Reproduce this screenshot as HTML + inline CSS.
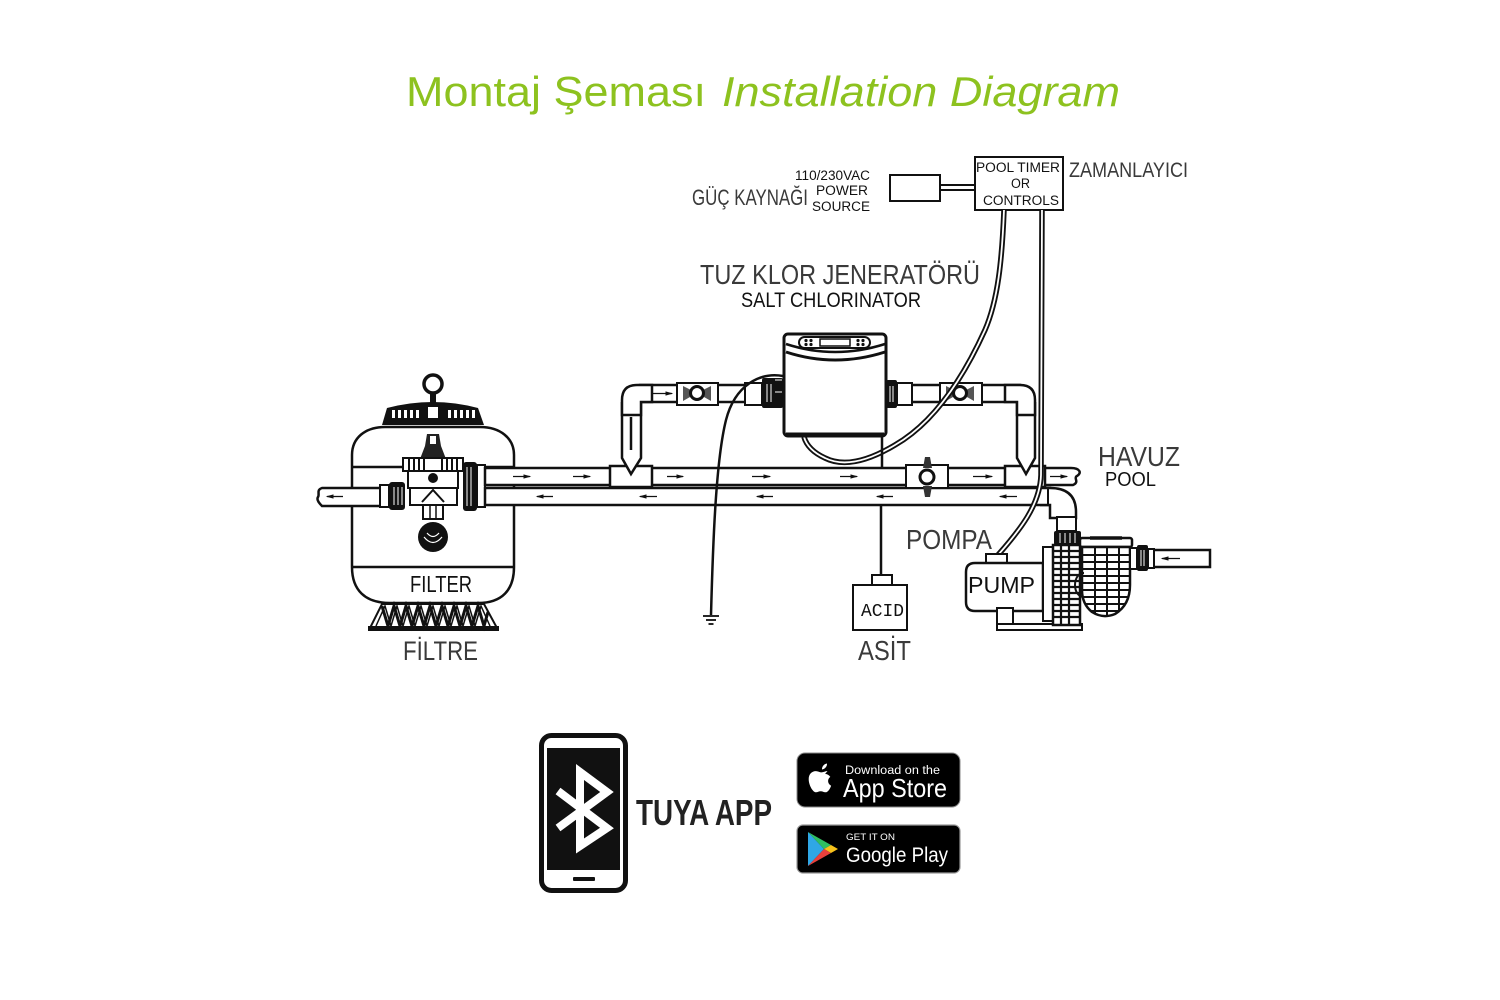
<!DOCTYPE html>
<html><head><meta charset="utf-8">
<style>
html,body{margin:0;padding:0;background:#fff;}
svg{display:block;}
</style></head><body>
<svg width="1500" height="1000" viewBox="0 0 1500 1000" xmlns="http://www.w3.org/2000/svg">
<defs>
<marker id="ah" markerWidth="6" markerHeight="4" refX="5" refY="2" orient="auto"><path d="M0 0.4 L6 2 L0 3.6z" fill="#111"/></marker>
<clipPath id="potclip"><path d="M1082 547 H1130 V585 Q1130 605 1115 614 Q1103 619 1092 612 Q1082 604 1082 590 Z"/></clipPath>
</defs>
<rect width="1500" height="1000" fill="#fff"/>

<!-- Title -->
<text x="406" y="106" font-family="Liberation Sans, sans-serif" font-size="42" fill="#8dc21f" textLength="300" lengthAdjust="spacingAndGlyphs">Montaj Şeması</text>
<text x="722" y="106" font-family="Liberation Sans, sans-serif" font-size="42" font-style="italic" fill="#8dc21f" textLength="398" lengthAdjust="spacingAndGlyphs">Installation Diagram</text>

<!-- Power source & timer -->
<rect x="890" y="175" width="50" height="26" fill="#fff" stroke="#111" stroke-width="2"/>
<line x1="940" y1="185" x2="975" y2="185" stroke="#111" stroke-width="2"/>
<line x1="940" y1="190" x2="975" y2="190" stroke="#111" stroke-width="2"/>
<rect x="975" y="157" width="88" height="53" fill="#fff" stroke="#111" stroke-width="2"/>
<g font-family="Liberation Sans, sans-serif" fill="#111" font-size="13.5">
<text x="976" y="172" textLength="84" lengthAdjust="spacingAndGlyphs">POOL TIMER</text>
<text x="1011" y="188" textLength="19" lengthAdjust="spacingAndGlyphs">OR</text>
<text x="983" y="205" textLength="76" lengthAdjust="spacingAndGlyphs">CONTROLS</text>
<text x="795" y="180" textLength="75" lengthAdjust="spacingAndGlyphs">110/230VAC</text>
<text x="816" y="195" textLength="52" lengthAdjust="spacingAndGlyphs">POWER</text>
<text x="812" y="211" textLength="58" lengthAdjust="spacingAndGlyphs">SOURCE</text>
</g>

<!-- Filter tank -->
<path d="M352 467 V455 C352 438 365 427 385 427 H480 C500 427 514 438 514 455 V567 C514 590 502 603 478 603 H390 C365 603 352 590 352 567 Z" fill="#fff" stroke="#111" stroke-width="2.5"/>
<line x1="352" y1="467" x2="514" y2="467" stroke="#111" stroke-width="2.5"/>
<line x1="352" y1="567" x2="514" y2="567" stroke="#111" stroke-width="2.5"/>
<!-- legs -->
<path d="M382 604 L484 604 L497 628 L370 628 Z" fill="#fff" stroke="#111" stroke-width="2"/>
<polyline points="382,606 388,626 394,606 400,626 406,606 412,626 418,606 424,626 430,606 436,626 442,606 448,626 454,606 460,626 466,606 472,626 478,606 484,626 488,612" fill="none" stroke="#111" stroke-width="3"/>
<polyline points="376,626 385,606 391,626 397,606 403,626 409,606 415,626 421,606 427,626 433,606 439,626 445,606 451,626 457,606 463,626 469,606 475,626 481,606 490,626" fill="none" stroke="#111" stroke-width="1.5"/>
<rect x="368" y="626" width="131" height="5" fill="#111"/>
<!-- lid -->
<circle cx="433" cy="384" r="9" fill="#fff" stroke="#111" stroke-width="3.5"/>
<rect x="430" y="392" width="6" height="11" fill="#111"/>
<path d="M382 425 L387 408 Q433 396 478 408 L484 425 Z" fill="#111"/>
<g fill="#fff">
<rect x="392" y="410" width="3" height="8"/><rect x="398" y="410" width="3" height="8"/><rect x="404" y="410" width="3" height="8"/><rect x="410" y="410" width="3" height="8"/><rect x="416" y="410" width="3" height="8"/>
<rect x="428" y="407" width="10" height="11"/>
<rect x="448" y="410" width="3" height="8"/><rect x="454" y="410" width="3" height="8"/><rect x="460" y="410" width="3" height="8"/><rect x="466" y="410" width="3" height="8"/><rect x="472" y="410" width="3" height="8"/>
</g>
<!-- valve -->
<path d="M427 434 H439 L441 446 L446 459 H420 L425 446 Z" fill="#222"/>
<rect x="430" y="436" width="6" height="8" fill="#fff"/>
<rect x="403" y="458" width="60" height="13" fill="#fff" stroke="#111" stroke-width="2"/>
<g stroke="#111" stroke-width="2">
<line x1="409" y1="459" x2="409" y2="470"/><line x1="414" y1="459" x2="414" y2="470"/><line x1="419" y1="459" x2="419" y2="470"/><line x1="424" y1="459" x2="424" y2="470"/><line x1="442" y1="459" x2="442" y2="470"/><line x1="447" y1="459" x2="447" y2="470"/><line x1="452" y1="459" x2="452" y2="470"/><line x1="457" y1="459" x2="457" y2="470"/>
</g>
<rect x="408" y="471" width="50" height="17" fill="#fff" stroke="#111" stroke-width="2"/>
<circle cx="433" cy="478" r="5" fill="#111"/>
<rect x="410" y="488" width="47" height="17" fill="#fff" stroke="#111" stroke-width="2"/>
<path d="M422 502 L433 490 L444 502" fill="#fff" stroke="#111" stroke-width="2"/>
<rect x="423" y="505" width="20" height="14" fill="#fff" stroke="#111" stroke-width="2"/>
<line x1="430" y1="505" x2="430" y2="520" stroke="#111" stroke-width="1.5"/>
<line x1="436" y1="505" x2="436" y2="520" stroke="#111" stroke-width="1.5"/>
<circle cx="433" cy="537" r="15" fill="#111"/>
<path d="M424 537 Q433 548 442 537" fill="none" stroke="#fff" stroke-width="1.2"/>
<path d="M427 533 Q433 540 439 533" fill="none" stroke="#fff" stroke-width="1.2"/>
<!-- left pipe -->
<path d="M382 488 H322 C316 490 320 494 318 497 C316 500 320 504 322 506 H382" fill="#fff" stroke="#111" stroke-width="2.5"/>
<!-- unions on filter -->
<rect x="380" y="485" width="9" height="22" fill="#fff" stroke="#111" stroke-width="2"/>
<rect x="389" y="482" width="16" height="28" rx="3" fill="#111"/>
<g stroke="#fff" stroke-width="1"><line x1="394" y1="487" x2="394" y2="505"/><line x1="398" y1="487" x2="398" y2="505"/><line x1="402" y1="487" x2="402" y2="505"/></g>
<rect x="463" y="462" width="14" height="49" rx="3" fill="#111"/>
<g stroke="#fff" stroke-width="1"><line x1="467" y1="467" x2="467" y2="506"/><line x1="471" y1="467" x2="471" y2="506"/></g>
<rect x="477" y="465" width="8" height="42" fill="#fff" stroke="#111" stroke-width="2"/>

<!-- Main pipes -->
<path d="M485 468 H1071 C1080 468 1082 473 1077 476 C1073 478 1080 482 1073 485 H485 Z" fill="#fff" stroke="#111" stroke-width="2.5"/>
<rect x="485" y="488" width="565" height="17" fill="#fff" stroke="#111" stroke-width="2.5"/>
<path d="M1040 488 H1050 Q1076 488 1076 512 V518 H1050 V505 H1040" fill="#fff" stroke="#111" stroke-width="2.5"/>
<line x1="1048" y1="488" x2="1048" y2="505" stroke="#111" stroke-width="2"/>
<rect x="1057" y="517" width="19" height="14" fill="#fff" stroke="#111" stroke-width="2"/>
<rect x="1054" y="531" width="27" height="14" rx="2" fill="#111"/>
<g stroke="#fff" stroke-width="1"><line x1="1060" y1="533" x2="1060" y2="543"/><line x1="1065" y1="533" x2="1065" y2="543"/><line x1="1070" y1="533" x2="1070" y2="543"/><line x1="1075" y1="533" x2="1075" y2="543"/></g>

<!-- bypass horizontal pipe -->
<rect x="640" y="385" width="380" height="17" fill="#fff" stroke="#111" stroke-width="2.5"/>
<!-- tees -->
<rect x="610" y="466" width="42" height="21" fill="#fff" stroke="#111" stroke-width="2.5"/>
<rect x="1005" y="466" width="40" height="21" fill="#fff" stroke="#111" stroke-width="2.5"/>
<!-- verticals -->
<path d="M622 402 V458 L631 474 L641 458 V402" fill="#fff" stroke="#111" stroke-width="2.5"/>
<path d="M1017 402 V458 L1026 474 L1035 458 V402" fill="#fff" stroke="#111" stroke-width="2.5"/>
<line x1="631" y1="417" x2="631" y2="450" stroke="#111" stroke-width="2.5"/>
<!-- elbows -->
<path d="M622 415 V400 Q622 385 637 385 H652 V402 H641 V415 Z" fill="#fff" stroke="#111" stroke-width="2.5"/>
<line x1="622" y1="415" x2="641" y2="415" stroke="#111" stroke-width="2"/>
<path d="M1035 415 V400 Q1035 385 1020 385 H1005 V402 H1017 V415 Z" fill="#fff" stroke="#111" stroke-width="2.5"/>
<line x1="1017" y1="415" x2="1035" y2="415" stroke="#111" stroke-width="2"/>

<!-- bypass valves -->
<rect x="677" y="383" width="41" height="22" fill="#fff" stroke="#111" stroke-width="2"/>
<path d="M683 386 L697 393 L683 401 Z M711 386 L697 393 L711 401 Z" fill="#555"/>
<circle cx="697" cy="393" r="6.5" fill="#fff" stroke="#111" stroke-width="3"/>
<rect x="940" y="383" width="42" height="22" fill="#fff" stroke="#111" stroke-width="2"/>
<path d="M946 386 L960 393 L946 401 Z M974 386 L960 393 L974 401 Z" fill="#555"/>
<circle cx="960" cy="393" r="6.5" fill="#fff" stroke="#111" stroke-width="3"/>
<!-- couplings & unions -->
<rect x="745" y="383" width="17" height="22" fill="#fff" stroke="#111" stroke-width="2"/>
<rect x="762" y="378" width="21" height="30" rx="2" fill="#111"/>
<g stroke="#fff" stroke-width="1"><line x1="767" y1="384" x2="767" y2="402"/><line x1="771" y1="384" x2="771" y2="402"/><line x1="775" y1="380" x2="782" y2="380"/><line x1="775" y1="392" x2="782" y2="392"/></g>
<rect x="897" y="383" width="15" height="22" fill="#fff" stroke="#111" stroke-width="2"/>
<rect x="886" y="380" width="11" height="28" rx="2" fill="#111"/>
<g stroke="#fff" stroke-width="1"><line x1="890" y1="386" x2="890" y2="402"/><line x1="893" y1="386" x2="893" y2="402"/></g>

<!-- main pipe valve -->
<rect x="906" y="465" width="42" height="23" fill="#fff" stroke="#111" stroke-width="2"/>
<path d="M925 457 H930 L932 468 H923 Z M923 486 H932 L930 497 H925 Z" fill="#333"/>
<circle cx="927" cy="477" r="7" fill="#fff" stroke="#111" stroke-width="3"/>

<!-- flow arrows -->
<g stroke="#111" stroke-width="1.3" marker-end="url(#ah)">
<line x1="513" y1="476.5" x2="530" y2="476.5"/>
<line x1="573" y1="476.5" x2="590" y2="476.5"/>
<line x1="667" y1="476.5" x2="683" y2="476.5"/>
<line x1="752" y1="476.5" x2="770" y2="476.5"/>
<line x1="840" y1="476.5" x2="857" y2="476.5"/>
<line x1="973" y1="476.5" x2="992" y2="476.5"/>
<line x1="1050" y1="476.5" x2="1067" y2="476.5"/>
<line x1="653" y1="393.5" x2="672" y2="393.5"/>
<line x1="553" y1="496.5" x2="537" y2="496.5"/>
<line x1="657" y1="496.5" x2="640" y2="496.5"/>
<line x1="773" y1="496.5" x2="757" y2="496.5"/>
<line x1="893" y1="496.5" x2="877" y2="496.5"/>
<line x1="1017" y1="496.5" x2="1000" y2="496.5"/>
<line x1="343" y1="496.5" x2="327" y2="496.5"/>
</g>

<!-- cables -->
<g fill="none" stroke="#111" stroke-width="5.5">
<path d="M1004 210 C1002 260 998 300 985 330 C960 385 930 425 895 445 C870 460 845 468 825 458 C812 452 806 444 804 437"/>
<path d="M1042 210 L1041 475 C1040 505 1020 530 998 555"/>
</g>
<g fill="none" stroke="#fff" stroke-width="1.8">
<path d="M1004 210 C1002 260 998 300 985 330 C960 385 930 425 895 445 C870 460 845 468 825 458 C812 452 806 444 804 437"/>
<path d="M1042 210 L1041 475 C1040 505 1020 530 998 555"/>
</g>
<path d="M783 376 C760 372 735 385 726 420 C716 460 713 540 711 615" fill="none" stroke="#111" stroke-width="2.5"/>
<g stroke="#111" stroke-width="1.8"><line x1="703" y1="616" x2="719" y2="616"/><line x1="706" y1="620" x2="716" y2="620"/><line x1="708.5" y1="624" x2="713.5" y2="624"/></g>

<!-- acid line -->
<line x1="882" y1="437" x2="882" y2="468" stroke="#111" stroke-width="2.5"/>
<line x1="881" y1="505" x2="881" y2="575" stroke="#111" stroke-width="2.5"/>

<!-- chlorinator -->
<rect x="784" y="334" width="102" height="102" rx="4" fill="#fff" stroke="#111" stroke-width="3"/>
<line x1="786" y1="434" x2="884" y2="434" stroke="#111" stroke-width="3"/>
<path d="M786 344 Q835 360 885 344" fill="none" stroke="#111" stroke-width="2.5"/>
<path d="M786 352 Q835 368 885 352" fill="none" stroke="#111" stroke-width="3"/>
<rect x="799" y="337" width="71" height="11" rx="5.5" fill="#fff" stroke="#111" stroke-width="2"/>
<rect x="820" y="339" width="30" height="7" fill="#fff" stroke="#111" stroke-width="1.5"/>
<g fill="#111"><circle cx="806" cy="340.5" r="1.6"/><circle cx="811" cy="340.5" r="1.6"/><circle cx="806" cy="344.5" r="1.6"/><circle cx="811" cy="344.5" r="1.6"/><circle cx="858" cy="340.5" r="1.6"/><circle cx="863" cy="340.5" r="1.6"/><circle cx="858" cy="344.5" r="1.6"/><circle cx="863" cy="344.5" r="1.6"/></g>

<!-- acid -->
<rect x="872" y="575" width="20" height="10" fill="#fff" stroke="#111" stroke-width="2"/>
<rect x="853" y="585" width="54" height="45" fill="#fff" stroke="#111" stroke-width="2"/>
<text x="861" y="616" font-family="Liberation Mono, monospace" font-size="18" fill="#111" textLength="43" lengthAdjust="spacingAndGlyphs">ACID</text>

<!-- pump -->
<rect x="986" y="554" width="21" height="10" fill="#fff" stroke="#111" stroke-width="2"/>
<path d="M975 563 H1043 V611 H975 Q966 611 966 602 V572 Q966 563 975 563 Z" fill="#fff" stroke="#111" stroke-width="2.5"/>
<rect x="997" y="608" width="16" height="18" fill="#fff" stroke="#111" stroke-width="2"/>
<rect x="997" y="624" width="85" height="6" fill="#fff" stroke="#111" stroke-width="2"/>
<rect x="1043" y="547" width="10" height="74" fill="#fff" stroke="#111" stroke-width="2"/>
<rect x="1053" y="545" width="27" height="80" fill="#fff" stroke="#111" stroke-width="2.5"/>
<g stroke="#111" stroke-width="2.2">
<line x1="1053" y1="551" x2="1080" y2="551"/><line x1="1053" y1="557" x2="1080" y2="557"/><line x1="1053" y1="563" x2="1080" y2="563"/><line x1="1053" y1="569" x2="1080" y2="569"/><line x1="1053" y1="575" x2="1080" y2="575"/><line x1="1053" y1="581" x2="1080" y2="581"/><line x1="1053" y1="587" x2="1080" y2="587"/><line x1="1053" y1="593" x2="1080" y2="593"/><line x1="1053" y1="599" x2="1080" y2="599"/><line x1="1053" y1="605" x2="1080" y2="605"/><line x1="1053" y1="611" x2="1080" y2="611"/><line x1="1053" y1="617" x2="1080" y2="617"/>
<line x1="1061" y1="545" x2="1061" y2="625"/><line x1="1069" y1="545" x2="1069" y2="625"/>
</g>
<rect x="1080" y="538" width="52" height="9" rx="2" fill="#fff" stroke="#111" stroke-width="2.5"/>
<line x1="1090" y1="538" x2="1122" y2="538" stroke="#111" stroke-width="3.5"/>
<path d="M1082 547 H1130 V585 Q1130 605 1115 614 Q1103 619 1092 612 Q1082 604 1082 590 Z" fill="#fff" stroke="#111" stroke-width="2.5"/>
<g clip-path="url(#potclip)" stroke="#111" stroke-width="2">
<line x1="1095" y1="547" x2="1095" y2="620"/><line x1="1107" y1="547" x2="1107" y2="620"/><line x1="1119" y1="547" x2="1119" y2="620"/>
<line x1="1082" y1="555" x2="1130" y2="555"/><line x1="1082" y1="562" x2="1130" y2="562"/><line x1="1082" y1="569" x2="1130" y2="569"/><line x1="1082" y1="576" x2="1130" y2="576"/><line x1="1082" y1="583" x2="1130" y2="583"/><line x1="1082" y1="590" x2="1130" y2="590"/><line x1="1082" y1="597" x2="1130" y2="597"/><line x1="1082" y1="604" x2="1130" y2="604"/><line x1="1082" y1="611" x2="1130" y2="611"/>
</g>
<path d="M1084 573 C1072 573 1072 597 1084 597" fill="none" stroke="#111" stroke-width="2"/>
<rect x="1153" y="550" width="57" height="17" fill="#fff" stroke="#111" stroke-width="2.5"/>
<rect x="1130" y="548" width="7" height="21" fill="#fff" stroke="#111" stroke-width="2"/>
<rect x="1137" y="545" width="11" height="26" rx="2" fill="#111"/>
<g stroke="#fff" stroke-width="1"><line x1="1141" y1="550" x2="1141" y2="566"/><line x1="1144" y1="550" x2="1144" y2="566"/></g>
<rect x="1148" y="549" width="6" height="19" fill="#fff" stroke="#111" stroke-width="2"/>
<line x1="1180" y1="558.5" x2="1162" y2="558.5" stroke="#111" stroke-width="1.3" marker-end="url(#ah)"/>

<!-- labels -->
<g font-family="Liberation Sans Narrow, Liberation Sans, sans-serif">
<text x="700" y="284" font-size="28" fill="#3a3a3a" textLength="280" lengthAdjust="spacingAndGlyphs">TUZ KLOR JENERATÖRÜ</text>
<text x="741" y="307" font-size="21" fill="#111" textLength="180" lengthAdjust="spacingAndGlyphs">SALT CHLORINATOR</text>
<text x="692" y="205" font-size="22" fill="#3a3a3a" textLength="116" lengthAdjust="spacingAndGlyphs">GÜÇ KAYNAĞI</text>
<text x="1069" y="177" font-size="21" fill="#3a3a3a" textLength="119" lengthAdjust="spacingAndGlyphs">ZAMANLAYICI</text>
<text x="1098" y="466" font-size="28" fill="#3a3a3a" textLength="82" lengthAdjust="spacingAndGlyphs">HAVUZ</text>
<text x="1105" y="486" font-size="20" fill="#111" textLength="51" lengthAdjust="spacingAndGlyphs">POOL</text>
<text x="906" y="549" font-size="28" fill="#3a3a3a" textLength="86" lengthAdjust="spacingAndGlyphs">POMPA</text>
<text x="858" y="660" font-size="28" fill="#3a3a3a" textLength="53" lengthAdjust="spacingAndGlyphs">ASİT</text>
<text x="403" y="660" font-size="27" fill="#3a3a3a" textLength="75" lengthAdjust="spacingAndGlyphs">FİLTRE</text>
<text x="410" y="592" font-size="23" fill="#111" textLength="62" lengthAdjust="spacingAndGlyphs">FILTER</text>
<text x="968" y="593" font-size="23" fill="#111" textLength="67" lengthAdjust="spacingAndGlyphs">PUMP</text>
</g>

<!-- phone -->
<rect x="541.5" y="735.5" width="84" height="155" rx="10" fill="#fff" stroke="#111" stroke-width="5"/>
<rect x="547" y="748" width="73" height="122" fill="#111"/>
<rect x="573" y="877" width="22" height="4" rx="1" fill="#111"/>
<path d="M558 791 L607 828 L580 846 V772 L607 792 L558 828" fill="none" stroke="#fff" stroke-width="8" stroke-linejoin="miter"/>
<text x="636" y="825" font-family="Liberation Sans Narrow, Liberation Sans, sans-serif" font-weight="bold" font-size="36" fill="#222" textLength="136" lengthAdjust="spacingAndGlyphs">TUYA APP</text>

<!-- App Store badge -->
<rect x="797" y="753" width="163" height="54" rx="8" fill="#000" stroke="#888" stroke-width="1"/>
<path d="M827.5 771 c-2.2 0 -4.2 1.4 -6 1.4 c-1.8 0 -3.6 -1.4 -5.8 -1.3 c-3.8 0.1 -7 3 -7 8 c0 5.8 4 13.2 7.4 13.2 c1.6 0 2.6 -1 4.6 -1 c2 0 2.8 1 4.6 1 c2.8 0 4.8 -3.6 5.800 -6.6 c-3.4 -1.6 -4.2 -6.4 -0.8 -8.8 c-1.4 -2 -3.4 -3 -5.2 -2.9 z M822 769.5 c-0.2 -3 2.2 -5.6 5 -6 c0.3 3 -2.3 5.8 -5 6 z" fill="#fff"/>
<text x="845" y="774" font-family="Liberation Sans, sans-serif" font-size="11.5" fill="#fff" textLength="95" lengthAdjust="spacingAndGlyphs">Download on the</text>
<text x="843" y="797" font-family="Liberation Sans, sans-serif" font-size="26" fill="#fff" textLength="104" lengthAdjust="spacingAndGlyphs">App Store</text>

<!-- Google Play badge -->
<rect x="797" y="825" width="163" height="48" rx="6" fill="#000" stroke="#999" stroke-width="1.2"/>
<polygon points="808,832 824,849 808,866" fill="#2fa7e6"/>
<polygon points="808,832 831,845 824,849" fill="#2fbf62"/>
<polygon points="831,845 838,849 831,853 824,849" fill="#f7c21b"/>
<polygon points="824,849 831,853 808,866" fill="#e8403c"/>
<text x="846" y="840" font-family="Liberation Sans, sans-serif" font-size="9.5" fill="#fff" textLength="49" lengthAdjust="spacingAndGlyphs">GET IT ON</text>
<text x="846" y="862" font-family="Liberation Sans, sans-serif" font-size="21" fill="#fff" textLength="102" lengthAdjust="spacingAndGlyphs">Google Play</text>
</svg>
</body></html>
